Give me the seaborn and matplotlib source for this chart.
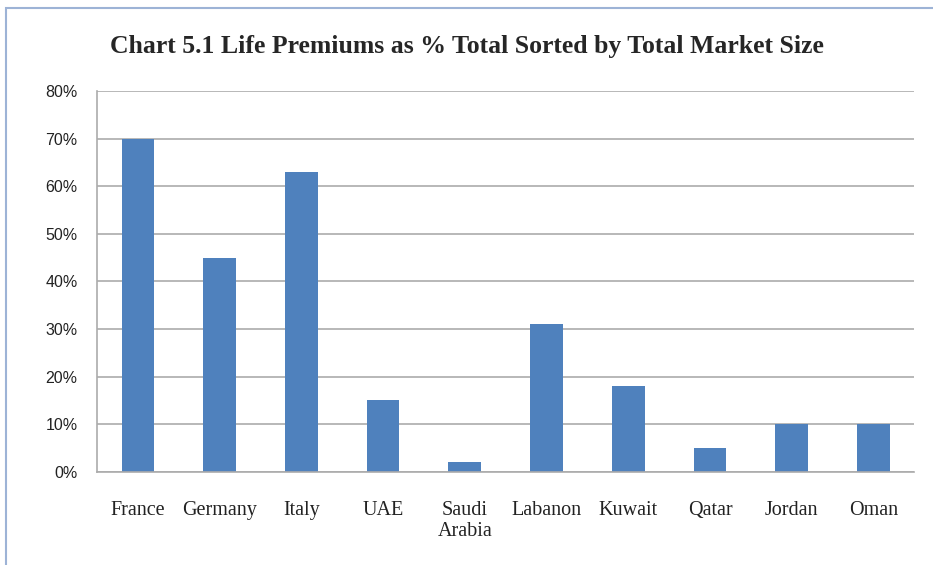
import matplotlib
matplotlib.use("Agg")
import matplotlib.pyplot as plt
import seaborn as sns
import pandas as pd
from matplotlib.ticker import PercentFormatter

# Chart data
countries = ["France", "Germany", "Italy", "UAE", "Saudi\nArabia", "Labanon",
             "Kuwait", "Qatar", "Jordan", "Oman"]
life_share = [70, 45, 63, 15, 2, 31, 18, 5, 10, 10]
y_ticks = [0, 10, 20, 30, 40, 50, 60, 70, 80]

df = pd.DataFrame({"Country": countries, "Share": life_share})

sns.set_style("white")

fig = plt.figure(figsize=(9.33, 5.65), dpi=100)
ax = fig.add_axes([0.104, 0.165, 0.876, 0.674])

sns.barplot(data=df, x="Country", y="Share", color="#4F81BD", width=0.4,
            saturation=1, linewidth=0, ax=ax)

ax.set_ylim(0, 80)
ax.set_yticks(y_ticks)
ax.yaxis.set_major_formatter(PercentFormatter(decimals=0))
ax.yaxis.grid(True, color="#ABABAB", linewidth=1.2)
ax.set_axisbelow(True)
ax.set_xlabel("")
ax.set_ylabel("")

for side in ["top", "right"]:
    ax.spines[side].set_visible(False)
for side in ["left", "bottom"]:
    ax.spines[side].set_color("#ABABAB")
    ax.spines[side].set_linewidth(1.2)

ax.tick_params(axis="y", length=0, pad=14, labelsize=11.5, labelcolor="#222222")
ax.tick_params(axis="x", length=0, pad=21)
for lbl in ax.get_yticklabels():
    lbl.set_family("Liberation Sans")
for lbl in ax.get_xticklabels():
    lbl.set_family("Liberation Serif")
    lbl.set_fontsize(14.5)
    lbl.set_linespacing(1.15)
    lbl.set_color("#222222")

fig.text(0.5, 0.917, "Chart 5.1 Life Premiums as % Total Sorted by Total Market Size",
         ha="center", va="center", fontsize=18.5, fontweight="bold",
         family="Liberation Serif")

# outer chart border
border = plt.Rectangle((0.006, -0.01), 1.2, 0.996, transform=fig.transFigure,
                       fill=False, edgecolor="#9DB3D6", linewidth=1.5)
fig.patches.append(border)

fig.savefig("out.png", dpi=100)
